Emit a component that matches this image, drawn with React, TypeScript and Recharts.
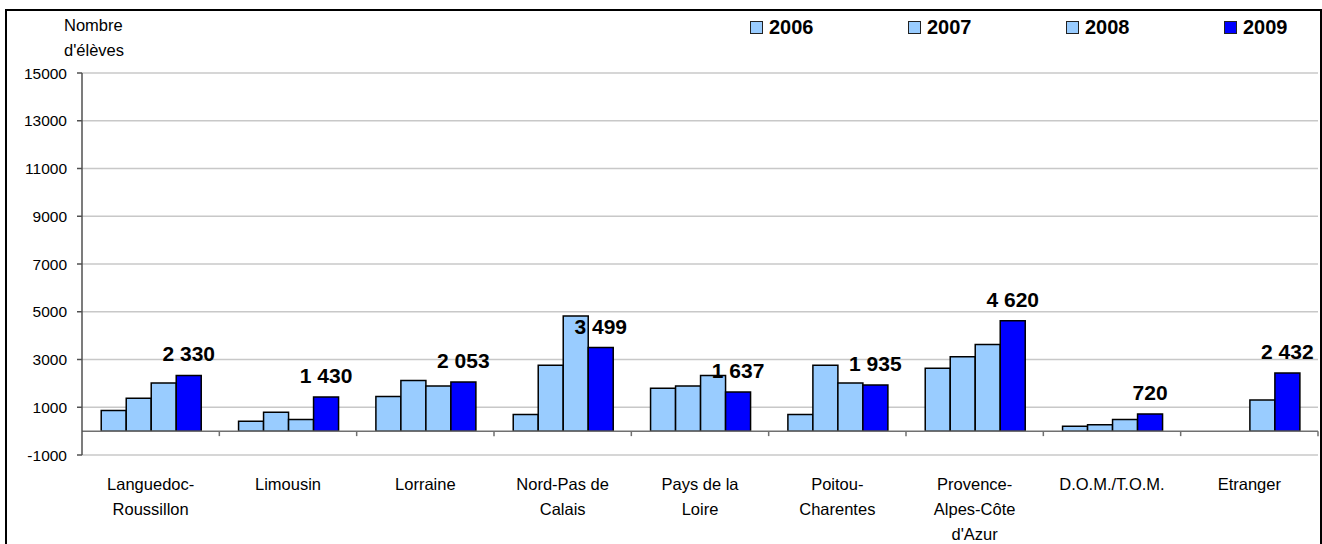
import { BarChart, Bar, XAxis, YAxis, CartesianGrid, ReferenceLine, ReferenceArea, LabelList } from 'recharts';

const categories = [
  'Languedoc-\nRoussillon',
  'Limousin',
  'Lorraine',
  'Nord-Pas de\nCalais',
  'Pays de la\nLoire',
  'Poitou-\nCharentes',
  'Provence-\nAlpes-Côte\nd\'Azur',
  'D.O.M./T.O.M.',
  'Etranger',
];

const v2006 = [860, 410, 1450, 700, 1800, 700, 2630, 200, null];
const v2007 = [1380, 790, 2120, 2760, 1890, 2760, 3120, 270, null];
const v2008 = [2020, 490, 1890, 4820, 2330, 2020, 3630, 490, 1300];
const v2009 = [2330, 1430, 2053, 3499, 1637, 1935, 4620, 720, 2432];

const yTicks = [-1000, 1000, 3000, 5000, 7000, 9000, 11000, 13000, 15000];

const series = [
  { key: 'y2006', name: '2006', color: '#99ccff' },
  { key: 'y2007', name: '2007', color: '#99ccff' },
  { key: 'y2008', name: '2008', color: '#99ccff' },
  { key: 'y2009', name: '2009', color: '#0000ff' },
];

const data = categories.map((cat, i) => ({
  cat,
  y2006: v2006[i],
  y2007: v2007[i],
  y2008: v2008[i],
  y2009: v2009[i],
}));

const FONT = '"Liberation Sans", Arial, sans-serif';

const fmt = (v: any) => String(v).replace(/\B(?=(\d{3})+(?!\d))/g, ' ');

function CatTick({ x, y, payload }: any) {
  const lines = String(payload.value).split('\n');
  return (
    <text x={x} y={y} textAnchor="middle" fontSize={16.5} fill="#000" fontFamily={FONT}>
      {lines.map((l, i) => (
        <tspan key={i} x={x} dy={i === 0 ? 33 : 25}>{l}</tspan>
      ))}
    </text>
  );
}

function ValueLabel({ x, y, width, value }: any) {
  if (value == null) return null;
  return (
    <text x={x + width / 2} y={y - 14} textAnchor="middle" fontSize={21} fontWeight="bold" fill="#000" fontFamily={FONT}>
      {fmt(value)}
    </text>
  );
}

// zero line with little ticks between the categories
function ZeroLine(p: any) {
  const { x1, x2, y1 } = p;
  const n = categories.length;
  const step = (x2 - x1) / n;
  return (
    <g>
      <line x1={x1} x2={x2} y1={y1} y2={y1} stroke="#707070" strokeWidth={1.5} />
      {categories.map((_, i) => (
        <line key={i} x1={x1 + step * (i + 1)} x2={x1 + step * (i + 1)} y1={y1} y2={y1 + 5} stroke="#707070" strokeWidth={1.5} />
      ))}
    </g>
  );
}

export default function App() {
  return (
    <div style={{ position: 'absolute', left: 0, top: 0, width: 1322, height: 544, background: '#fff', overflow: 'hidden' }}>
      <div style={{ position: 'absolute', left: 5, top: 9, width: 1313, height: 600, border: '2px solid #000' }} />
      <div style={{ position: 'absolute', left: 64, top: 13, fontFamily: FONT, fontSize: 16.5, lineHeight: '25px', color: '#000' }}>
        Nombre<br />d'élèves
      </div>
      <div style={{ position: 'absolute', left: 750, top: 16, display: 'flex', fontFamily: FONT }}>
        {series.map((s) => (
          <div key={s.key} style={{ width: 158, display: 'flex', alignItems: 'center' }}>
            <div style={{ width: 11, height: 11, background: s.color, border: '1px solid #222', marginRight: 6 }} />
            <span style={{ fontSize: 20, fontWeight: 'bold', color: '#000' }}>{s.name}</span>
          </div>
        ))}
      </div>
      <div style={{ position: 'absolute', left: 0, top: 0 }}>
        <BarChart
          width={1322}
          height={544}
          data={data}
          margin={{ top: 73, right: 4, left: 0, bottom: 0 }}
          barCategoryGap="14%"
          barGap={0}
        >
          <CartesianGrid vertical={false} stroke="#c8c8c8" strokeWidth={1.5} />
          <ReferenceArea fill="none" stroke="#c8c8c8" strokeWidth={1.5} ifOverflow="visible" />
          <XAxis dataKey="cat" height={89} axisLine={false} tickLine={false} tickSize={0} tick={<CatTick />} interval={0} />
          <YAxis
            width={82}
            domain={[-1000, 15000]}
            ticks={yTicks}
            tickSize={5}
            tickMargin={10}
            axisLine={{ stroke: '#505050', strokeWidth: 1.5 }}
            tickLine={{ stroke: '#505050', strokeWidth: 1.5 }}
            tick={{ fontSize: 15.5, fill: '#000', fontFamily: FONT }}
            interval={0}
          />
          {series.map((s) => (
            <Bar key={s.key} dataKey={s.key} name={s.name} fill={s.color} stroke="#000" strokeWidth={1.5} isAnimationActive={false}>
              {s.key === 'y2009' && <LabelList dataKey={s.key} content={<ValueLabel />} />}
            </Bar>
          ))}
          <ReferenceLine y={0} shape={<ZeroLine />} />
        </BarChart>
      </div>
    </div>
  );
}
